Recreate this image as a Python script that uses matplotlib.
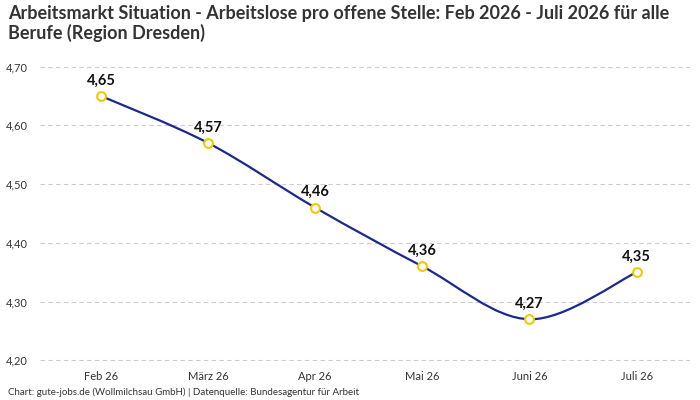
import matplotlib
matplotlib.use("Agg")
import matplotlib.pyplot as plt
from matplotlib.path import Path
from matplotlib.patches import PathPatch
import numpy as np

categories = ["Feb 26", "März 26", "Apr 26", "Mai 26", "Juni 26", "Juli 26"]
values = [4.65, 4.57, 4.46, 4.36, 4.27, 4.35]
yticks = [4.20, 4.30, 4.40, 4.50, 4.60, 4.70]

plt.rcParams['font.family'] = ['Lato', 'DejaVu Sans']
fig = plt.figure(figsize=(7, 4), dpi=100)
ax = fig.add_axes([0.057, 0.0975, 0.929, 0.7375])

x = np.arange(len(values), dtype=float)
y = np.array(values)
verts = [(x[0], y[0])]
codes = [Path.MOVETO]
n = len(x)
for i in range(n - 1):
    p0 = (x[i-1], y[i-1]) if i > 0 else (x[i], y[i])
    p1 = (x[i], y[i]); p2 = (x[i+1], y[i+1])
    p3 = (x[i+2], y[i+2]) if i + 2 < n else (x[i+1], y[i+1])
    c1 = (p1[0] + (p2[0]-p0[0]) / 6, p1[1] + (p2[1]-p0[1]) / 6)
    c2 = (p2[0] - (p3[0]-p1[0]) / 6, p2[1] - (p3[1]-p1[1]) / 6)
    verts += [c1, c2, p2]
    codes += [Path.CURVE4] * 3
ax.add_patch(PathPatch(Path(verts, codes), fill=False, edgecolor="#1a2a8c", lw=1.6, zorder=2))
ax.scatter(x, y, s=40, facecolor="white", edgecolor="#f5c800", linewidth=1.5, zorder=3)
for xi, yi in zip(x, y):
    ax.annotate(f"{yi:.2f}".replace(".", ","), (xi, yi), xytext=(0, 6), textcoords="offset points",
                ha="center", va="bottom", fontsize=10.5, fontweight="bold", color="#111111")

ax.set_xlim(-0.57, 5.5)
ax.set_ylim(4.199, 4.701)
ax.set_yticks(yticks)
ax.set_yticklabels([f"{v:.2f}".replace(".", ",") for v in yticks], fontsize=8, color="#333333")
ax.set_xticks(x)
ax.set_xticklabels(categories, fontsize=8, color="#333333")
ax.grid(axis="y", color="#cccccc", linestyle=(0, (4, 3)), lw=0.8)
for s in ax.spines.values():
    s.set_visible(False)
ax.tick_params(length=0)
ax.tick_params(axis="x", pad=7)
ax.tick_params(axis="y", pad=9)

fig.text(0.012, 0.988, "Arbeitsmarkt Situation - Arbeitslose pro offene Stelle: Feb 2026 - Juli 2026 für alle\nBerufe (Region Dresden)",
         ha="left", va="top", fontsize=13, fontweight="bold", color="#333333", linespacing=1.15)
fig.text(0.012, 0.008, "Chart: gute-jobs.de (Wollmilchsau GmbH) | Datenquelle: Bundesagentur für Arbeit",
         ha="left", va="bottom", fontsize=7, color="#333333")
fig.savefig("out.png", dpi=100)
